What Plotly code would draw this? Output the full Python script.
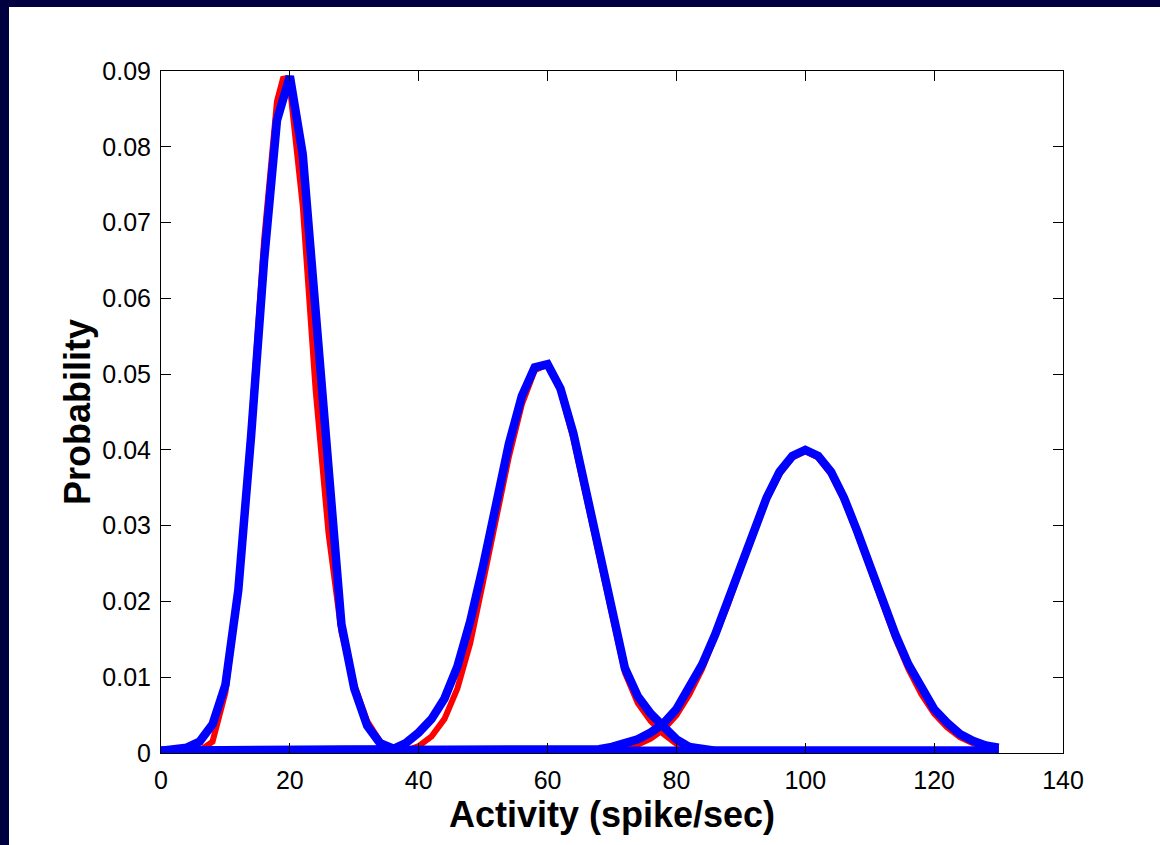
import plotly.graph_objects as go

# ---- data ----
x_ticks = [0, 20, 40, 60, 80, 100, 120, 140]
y_ticks = [0, 0.01, 0.02, 0.03, 0.04, 0.05, 0.06, 0.07, 0.08, 0.09]
y_tick_text = ["0", "0.01", "0.02", "0.03", "0.04", "0.05", "0.06", "0.07", "0.08", "0.09"]

# true distributions (red)
red1_x = [0, 2, 4, 6, 8, 10, 12, 14, 16, 18, 19, 20, 22, 24, 26, 28, 30, 32, 34, 36, 38, 40, 130]
red1_y = [0, 0, 0, 0.0003, 0.0015, 0.0080, 0.0215, 0.0430, 0.0677, 0.0860, 0.0892, 0.0880, 0.0722,
          0.0479, 0.0290, 0.0160, 0.0090, 0.0042, 0.0015, 0.0004, 0.0001, 0, 0]

red2_x = [0, 36, 38, 40, 42, 44, 46, 48, 50, 52, 54, 56, 58, 60, 62, 64, 66, 68, 70, 72, 74, 76,
          78, 80, 82, 84, 86, 130]
red2_y = [0, 0, 0.0003, 0.0009, 0.0022, 0.0045, 0.0085, 0.0145, 0.0226, 0.0308, 0.0391, 0.0460,
          0.0505, 0.0513, 0.0478, 0.0415, 0.0338, 0.0258, 0.0180, 0.0106, 0.0066, 0.0042, 0.0025,
          0.0012, 0.0005, 0.0002, 0, 0]

red3_x = [0, 66, 68, 70, 72, 74, 76, 78, 80, 82, 84, 86, 88, 90, 92, 94, 96, 98, 100, 102, 104,
          106, 108, 110, 112, 114, 116, 118, 120, 122, 124, 126, 128, 130]
red3_y = [0, 0, 0.0001, 0.0003, 0.0006, 0.0011, 0.0019, 0.0031, 0.0050, 0.0077, 0.0111, 0.0151,
          0.0196, 0.0244, 0.0291, 0.0334, 0.0368, 0.0390, 0.0398, 0.0390, 0.0368, 0.0334, 0.0291,
          0.0244, 0.0196, 0.0151, 0.0111, 0.0078, 0.0052, 0.0034, 0.0021, 0.0013, 0.0008, 0.0005]

# estimated distributions (blue)
blue1_x = [0, 2, 4, 6, 8, 10, 12, 14, 16, 18, 20, 22, 24, 26, 28, 30, 32, 34, 36, 38, 40, 130]
blue1_y = [0.0003, 0.0004, 0.0007, 0.0015, 0.0038, 0.0090, 0.0215, 0.0420, 0.0650, 0.0835, 0.0893,
           0.0790, 0.0580, 0.0355, 0.0170, 0.0085, 0.0036, 0.0013, 0.0006, 0.0004, 0.0003, 0.0003]

blue2_x = [0, 34, 36, 38, 40, 42, 44, 46, 48, 50, 52, 54, 56, 58, 60, 62, 64, 66, 68, 70, 72, 74,
           76, 78, 80, 82, 84, 86, 130]
blue2_y = [0.0003, 0.0003, 0.0005, 0.0013, 0.0027, 0.0045, 0.0072, 0.0114, 0.0174, 0.0247, 0.0329,
           0.0408, 0.0471, 0.0509, 0.0513, 0.0481, 0.0422, 0.0345, 0.0263, 0.0188, 0.0112, 0.0075,
           0.0052, 0.0035, 0.0018, 0.0008, 0.0005, 0.0003, 0.0003]

blue3_x = [0, 64, 66, 68, 70, 72, 74, 76, 78, 80, 82, 84, 86, 88, 90, 92, 94, 96, 98, 100, 102, 104,
           106, 108, 110, 112, 114, 116, 118, 120, 122, 124, 126, 128, 130]
blue3_y = [0.0003, 0.0003, 0.0004, 0.0005, 0.0008, 0.0013, 0.0018, 0.0027, 0.0039, 0.0058, 0.0085,
           0.0117, 0.0156, 0.0200, 0.0247, 0.0294, 0.0337, 0.0371, 0.0392, 0.0400, 0.0392, 0.0371,
           0.0337, 0.0294, 0.0247, 0.0200, 0.0156, 0.0117, 0.0085, 0.0058, 0.0040, 0.0025, 0.0016,
           0.0010, 0.0007]

FONT = "Liberation Sans, Arial, Helvetica, sans-serif"
RED = "#ff0000"
BLUE = "#0000ff"
NAVY = "#000040"

fig = go.Figure()
for xs, ys in [(red1_x, red1_y), (red2_x, red2_y), (red3_x, red3_y)]:
    fig.add_trace(go.Scatter(x=xs, y=ys, mode="lines",
                             line=dict(color=RED, width=6), hoverinfo="skip"))
for xs, ys in [(blue1_x, blue1_y), (blue2_x, blue2_y), (blue3_x, blue3_y)]:
    fig.add_trace(go.Scatter(x=xs, y=ys, mode="lines",
                             line=dict(color=BLUE, width=8.5), hoverinfo="skip"))

L, R, T, B = 161, 97, 71, 92
W, H = 1160, 845
pw, ph = W - L - R, H - T - B

def px(xp):
    return (xp - L) / pw

def py(yp):
    return (H - B - yp) / ph

# navy frame bands (top and left)
fig.add_shape(type="rect", xref="paper", yref="paper",
              x0=px(-5), x1=px(W + 5), y0=py(7), y1=py(-5),
              fillcolor=NAVY, line_width=0, layer="above")
fig.add_shape(type="rect", xref="paper", yref="paper",
              x0=px(-5), x1=px(9), y0=py(H + 5), y1=py(-5),
              fillcolor=NAVY, line_width=0, layer="above")

axis_common = dict(
    showgrid=False, zeroline=False, showline=True, linecolor="black", linewidth=1,
    mirror="ticks", ticks="inside", ticklen=10, tickwidth=1, tickcolor="black",
    tickfont=dict(family=FONT, size=25, color="black"),
)

fig.update_layout(
    width=W, height=H,
    margin=dict(l=L, r=R, t=T, b=B, pad=0),
    paper_bgcolor="white", plot_bgcolor="white",
    showlegend=False,
    xaxis=dict(range=[0, 140], tickvals=x_ticks, ticktext=[str(v) for v in x_ticks],
               title=dict(text="<b>Activity (spike/sec)</b>",
                          font=dict(family=FONT, size=36, color="black"), standoff=6),
               ticklabelstandoff=5,
               **axis_common),
    yaxis=dict(range=[0, 0.09], tickvals=y_ticks, ticktext=y_tick_text,
               title=dict(text="<b>Probability</b>",
                          font=dict(family=FONT, size=36, color="black"), standoff=0),
               ticklabelstandoff=4,
               **axis_common),
)

fig.write_html("out.html")
